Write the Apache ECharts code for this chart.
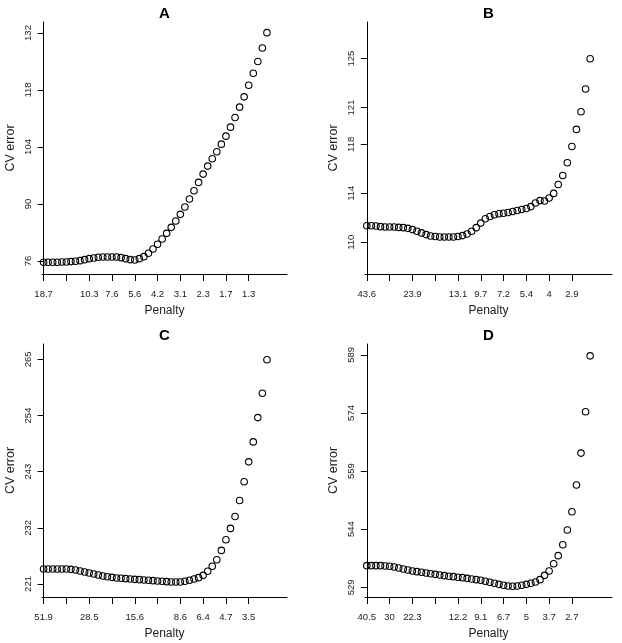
<!DOCTYPE html>
<html><head><meta charset="utf-8">
<script src="https://cdn.jsdelivr.net/npm/echarts@6/dist/echarts.min.js"></script>
<style>html,body{margin:0;padding:0;background:#fff}#c{width:622px;height:643px}</style>
</head><body><div id="c"></div>
<script>
// ---- data ----
const tickIndex = [0, 5, 10, 15, 20, 25, 30, 35, 40, 45];

const penaltyA = ['18.7', '', '10.3', '7.6', '5.6', '4.2', '3.1', '2.3', '1.7', '1.3'];
const penaltyB = ['43.6', '', '23.9', '', '13.1', '9.7', '7.2', '5.4', '4', '2.9'];
const penaltyC = ['51.9', '', '28.5', '', '15.6', '', '8.6', '6.4', '4.7', '3.5'];
const penaltyD = ['40.5', '30', '22.3', '', '12.2', '9.1', '6.7', '5', '3.7', '2.7'];

const yTicksA = [76, 90, 104, 118, 132];
const yTicksB = [110, 114, 118, 121, 125];
const yTicksC = [221, 232, 243, 254, 265];
const yTicksD = [529, 544, 559, 574, 589];

const cvA = [75.67, 75.67, 75.67, 75.67, 75.75, 75.75, 75.84, 75.92, 76.08, 76.33,
  76.57, 76.74, 76.90, 76.98, 76.98, 76.98, 76.98, 76.82, 76.57, 76.33,
  76.25, 76.57, 77.06, 77.88, 78.94, 80.09, 81.40, 82.79, 84.26, 85.81,
  87.45, 89.25, 91.21, 93.25, 95.30, 97.34, 99.30, 101.10, 102.82, 104.70,
  106.66, 108.87, 111.24, 113.78, 116.31, 119.17, 122.12, 124.98, 128.33, 132.09];

const cvB = [111.35, 111.35, 111.32, 111.27, 111.24, 111.24, 111.24, 111.21, 111.19, 111.13,
  111.03, 110.89, 110.76, 110.62, 110.51, 110.46, 110.43, 110.43, 110.43, 110.43,
  110.46, 110.54, 110.67, 110.89, 111.19, 111.56, 111.92, 112.10, 112.24, 112.32,
  112.37, 112.43, 112.51, 112.59, 112.67, 112.75, 112.91, 113.21, 113.40, 113.37,
  113.61, 113.99, 114.72, 115.45, 116.50, 117.82, 119.22, 120.66, 122.52, 125.00];

const cvC = [223.93, 223.93, 223.93, 223.93, 223.93, 223.93, 223.87, 223.74, 223.54, 223.35,
  223.15, 222.96, 222.76, 222.56, 222.43, 222.30, 222.17, 222.11, 222.04, 221.98,
  221.91, 221.85, 221.78, 221.72, 221.65, 221.59, 221.52, 221.46, 221.39, 221.39,
  221.39, 221.52, 221.72, 221.98, 222.24, 222.69, 223.48, 224.46, 225.76, 227.58,
  229.67, 231.89, 234.23, 237.36, 241.01, 244.92, 248.83, 253.59, 258.35, 264.93];

const cvD = [534.59, 534.59, 534.59, 534.59, 534.50, 534.42, 534.24, 533.99, 533.73, 533.47,
  533.21, 533.04, 532.87, 532.70, 532.52, 532.35, 532.18, 532.01, 531.84, 531.75,
  531.58, 531.49, 531.32, 531.15, 530.98, 530.81, 530.55, 530.29, 530.03, 529.77,
  529.52, 529.34, 529.26, 529.34, 529.52, 529.77, 530.03, 530.38, 530.98, 532.09,
  533.21, 535.10, 537.17, 540.00, 543.79, 548.51, 555.39, 563.64, 574.30, 588.74];

// ---- layout ----
const FONT = '"Liberation Sans", Arial, sans-serif';
const panels = [
  { key: 'A', cv: cvA, yTicks: yTicksA, xLabels: penaltyA,
    grid: { left: 42, top: 22, width: 245, height: 252 }, xMin: -0.35, xMax: 53.4, yMin: 72.8, yMax: 134.7 },
  { key: 'B', cv: cvB, yTicks: yTicksB, xLabels: penaltyB,
    grid: { left: 365, top: 22, width: 247, height: 252 }, xMin: -0.4, xMax: 53.8, yMin: 107.4, yMax: 128.0 },
  { key: 'C', cv: cvC, yTicks: yTicksC, xLabels: penaltyC,
    grid: { left: 42, top: 344, width: 245, height: 253 }, xMin: -0.35, xMax: 53.4, yMin: 218.45, yMax: 268.0 },
  { key: 'D', cv: cvD, yTicks: yTicksD, xLabels: penaltyD,
    grid: { left: 365, top: 344, width: 247, height: 253 }, xMin: -0.4, xMax: 53.8, yMin: 526.5, yMax: 591.8 }
];

const grids = [], xAxes = [], yAxes = [], series = [], graphics = [];
panels.forEach((p, i) => {
  grids.push(Object.assign({ containLabel: false }, p.grid));
  xAxes.push({
    type: 'value', gridIndex: i, min: p.xMin, max: p.xMax,
    splitLine: { show: false },
    axisLine: { show: true, lineStyle: { color: '#000', width: 1 } },
    axisTick: { show: true, length: 7, customValues: tickIndex, lineStyle: { color: '#000', width: 1 } },
    axisLabel: { show: true, customValues: tickIndex, margin: 15, fontSize: 9.5, color: '#222', fontFamily: FONT,
      formatter: (v) => { const k = tickIndex.indexOf(Math.round(v)); return k >= 0 ? p.xLabels[k] : ''; } }
  });
  yAxes.push({
    type: 'value', gridIndex: i, min: p.yMin, max: p.yMax,
    splitLine: { show: false },
    axisLine: { show: true, lineStyle: { color: '#000', width: 1 } },
    axisTick: { show: true, length: 6, customValues: p.yTicks, lineStyle: { color: '#000', width: 1 } },
    axisLabel: { show: true, customValues: p.yTicks, rotate: 90, margin: 9, fontSize: 9.5, color: '#222', fontFamily: FONT,
      formatter: (v) => String(Math.round(v)) }
  });
  series.push({
    type: 'scatter', xAxisIndex: i, yAxisIndex: i,
    data: p.cv.map((v, j) => [j, v]),
    symbol: 'circle', symbolSize: 6.5,
    itemStyle: { color: 'rgba(0,0,0,0)', borderColor: '#000', borderWidth: 1.1, opacity: 1 },
    emphasis: { disabled: true }
  });
  const cx = p.grid.left + p.grid.width / 2;
  const cy = p.grid.top + p.grid.height / 2;
  graphics.push({ type: 'text', x: cx, y: p.grid.top - 8.5,
    style: { text: p.key, font: 'bold 15px ' + FONT, fill: '#000', textAlign: 'center', textVerticalAlign: 'middle', verticalAlign: 'middle', align: 'center' } });
  graphics.push({ type: 'text', x: cx, y: p.grid.top + p.grid.height + 37,
    style: { text: 'Penalty', font: '12px ' + FONT, fill: '#222', textAlign: 'center', textVerticalAlign: 'middle', verticalAlign: 'middle', align: 'center' } });
  graphics.push({ type: 'text', x: p.grid.left - 31, y: cy, rotation: Math.PI / 2,
    style: { text: 'CV error', font: '12.5px ' + FONT, fill: '#222', textAlign: 'center', textVerticalAlign: 'middle', verticalAlign: 'middle', align: 'center' } });
});

const chart = echarts.init(document.getElementById('c'), null, { renderer: 'canvas' });
chart.setOption({
  animation: false,
  backgroundColor: '#fff',
  grid: grids, xAxis: xAxes, yAxis: yAxes, series: series,
  graphic: { elements: graphics }
});
</script></body></html>
